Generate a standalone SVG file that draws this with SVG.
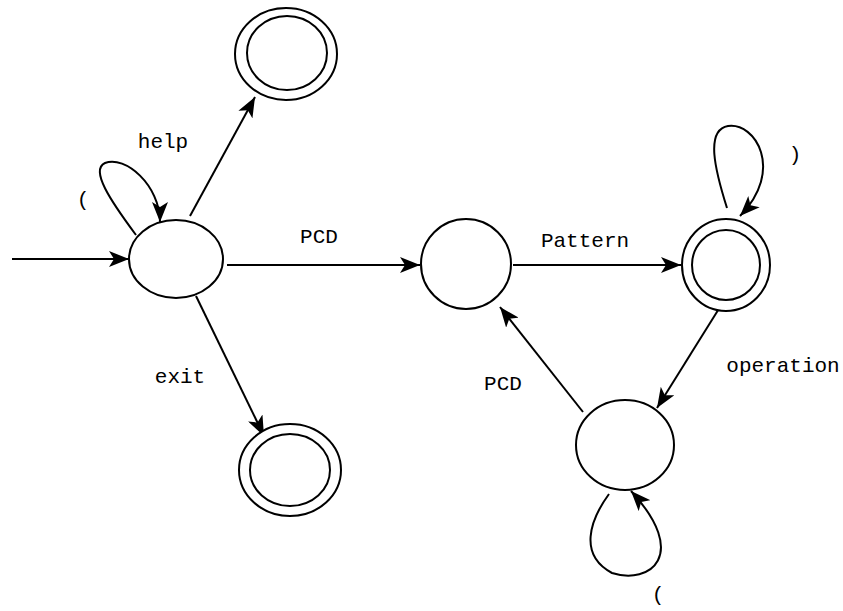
<svg xmlns="http://www.w3.org/2000/svg" width="843" height="611" viewBox="0 0 843 611">
<defs>
<marker id="ahb" viewBox="0 0 20 16" refX="20" refY="8" markerWidth="20" markerHeight="16" markerUnits="userSpaceOnUse" orient="auto">
<path d="M0,0 L20,8 L0,16 L5,8 Z" fill="#000"/>
</marker>
</defs>
<style>
.n{fill:#fff;stroke:#000;stroke-width:2}
.e{fill:none;stroke:#000;stroke-width:2;marker-end:url(#ahb)}
.t{font-family:"Liberation Mono","DejaVu Sans Mono",monospace;font-size:21px;fill:#000;text-anchor:middle}
</style>
<rect width="843" height="611" fill="#fff"/>
<g id="connectors">
<path class="e" d="M12,259 L129,259"/>
<path class="e" d="M190,216 L255,97"/>
<path class="e" d="M196,296 L264,436"/>
<path class="e" d="M227,265 L420,265"/>
<path class="e" d="M513,265 L681,265"/>
<path class="e" d="M720,307 L657,408"/>
<path class="e" d="M583,412 L500,307"/>
<path class="e" d="M136,235 C110,200 90,170 105,163 C125,155 160,185 160,222"/>
<path class="e" d="M727,208 C715,170 705,130 728,126 C755,122 785,170 740,216"/>
<path class="e" d="M609,494 C590,520 578,555 612,573 C650,585 690,555 631,491"/>
</g>
<g id="start"><ellipse class="n" cx="176" cy="259" rx="47" ry="39"/></g>
<g id="help-accept"><ellipse class="n" cx="286" cy="54" rx="51" ry="46"/><ellipse class="n" cx="287" cy="53" rx="40" ry="37"/></g>
<g id="exit-accept"><ellipse class="n" cx="290" cy="470" rx="51" ry="46"/><ellipse class="n" cx="290" cy="470" rx="40" ry="36"/></g>
<g id="mid"><ellipse class="n" cx="466" cy="264" rx="45" ry="45"/></g>
<g id="pattern-accept"><ellipse class="n" cx="726" cy="265" rx="44" ry="46"/><ellipse class="n" cx="726" cy="265" rx="34" ry="35"/></g>
<g id="op"><ellipse class="n" cx="625" cy="445" rx="49" ry="45"/></g>
<g id="labels">
<text class="t" x="163" y="148">help</text>
<text class="t" x="83" y="206">(</text>
<text class="t" x="319" y="243">PCD</text>
<text class="t" x="585" y="247">Pattern</text>
<text class="t" x="795" y="161">)</text>
<text class="t" x="180" y="383">exit</text>
<text class="t" x="783" y="372">operation</text>
<text class="t" x="503" y="390">PCD</text>
<text class="t" x="658" y="601">(</text>
</g>
</svg>
